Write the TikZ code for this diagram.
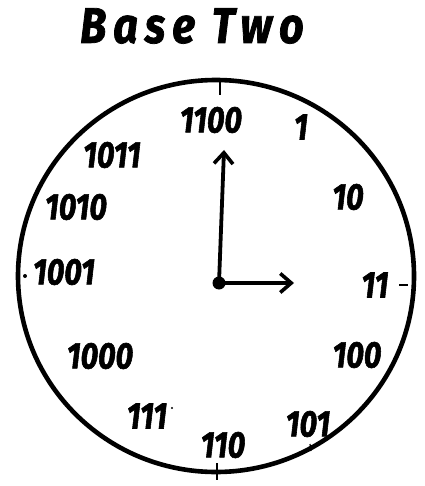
\documentclass[tikz,border=0pt]{standalone}
\usepackage{fontspec}
\setmainfont{Fira Sans}[Numbers=Proportional]
\newfontfamily\handfont{Fira Sans}[Numbers=Proportional,FakeBold=1.5,FakeStretch=0.82]
\newfontfamily\titlefont{Fira Sans}[FakeBold=1.5,FakeStretch=0.86,LetterSpace=14]
\usetikzlibrary{arrows.meta}
\tikzset{
  numeral/.style={font=\handfont\fontsize{37}{37}\selectfont\bfseries\itshape,inner sep=0pt},
  rim/.style={line width=4.6pt},
  tick/.style={line width=2.4pt},
  hand/.style={line width=3.8pt,-{Straight Barb[length=11pt,width=19pt,line width=3.6pt]}},
  hubdot/.style={circle,fill=black,inner sep=0pt,minimum size=13pt}
}
\begin{document}
\begin{tikzpicture}[x=1pt,y=-1pt]
  \useasboundingbox (0,0) rectangle (424,486);
  % title
  \node[font=\titlefont\fontsize{50}{50}\selectfont\bfseries\itshape,inner sep=0pt] (title) at (192,26) {Base\,\,Two};
  % face
  \draw[rim] (216,276) ellipse [x radius=198,y radius=196];
  \draw[tick] (220,82) -- (220,95);
  \draw[tick] (399,285) -- (408,285);
  \fill (25,276) circle (2);
  \draw[tick] (217,463) -- (217,480);
  \draw[line width=1.2pt] (310,444) -- (311,451);
  \fill (172,408) circle (1.2);
  % numerals
  \node[numeral] (n12) at (211,120) {1100};
  \node[numeral] (n1) at (301,127) {1};
  \node[numeral] (n2) at (348,197) {10};
  \node[numeral] (n3) at (375,285) {11};
  \node[numeral] (n4) at (357,355) {100};
  \node[numeral] (n5) at (308,424) {101};
  \node[numeral] (n6) at (223,445) {110};
  \node[numeral] (n7) at (147,416) {111};
  \node[numeral] (n8) at (100,356) {1000};
  \node[numeral] (n9) at (64,272) {1001};
  \node[numeral] (n10) at (76,207) {1010};
  \node[numeral] (n11) at (112,155) {1011};
  % hands
  \node[hubdot] (hub) at (219,283) {};
  \coordinate (longtip) at (224,150);
  \coordinate (shorttip) at (294,283);
  \draw[hand] (hub.center) -- (longtip);
  \draw[hand] (hub.center) -- (shorttip);
\end{tikzpicture}
\end{document}
